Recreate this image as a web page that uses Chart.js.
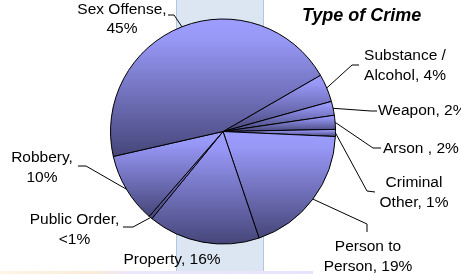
<!DOCTYPE html>
<html>
<head>
<meta charset="utf-8">
<script src="https://cdn.jsdelivr.net/npm/chart.js@4/dist/chart.umd.min.js"></script>
<style>
  html, body { margin: 0; padding: 0; background: #fff; }
  #wrap { position: relative; width: 461px; height: 274px; }
</style>
</head>
<body>
<div id="wrap"><canvas id="crimeChart" width="461" height="274"></canvas></div>
<script>
const categories = ['Substance / Alcohol', 'Weapon', 'Arson', 'Criminal Other', 'Person to Person', 'Property', 'Public Order', 'Robbery', 'Sex Offense'];
const shares = [4, 2, 2, 1, 19, 16, 0.5, 10, 45];
const labelLines = [
    ['Substance /', 'Alcohol, 4%'],
    ['Weapon, 2%'],
    ['Arson , 2%'],
    ['Criminal', 'Other, 1%'],
    ['Person to', 'Person, 19%'],
    ['Property, 16%'],
    ['Public Order,', '<1%'],
    ['Robbery,', '10%'],
    ['Sex Offense,', '45%']
];

// where each label sits and the bends of its leader line
const labelPlaces = [
    { x: 405, y: 60, align: 'center', bends: [[352, 65], [359, 65]] },
    { x: 378, y: 115, align: 'left', bends: [[371, 111], [377, 111]] },
    { x: 383, y: 153, align: 'left', bends: [[373, 148], [381, 148]] },
    { x: 414, y: 187, align: 'center', bends: [[367, 191], [375, 192]] },
    { x: 368, y: 251, align: 'center', bends: [[367, 224], [367, 232]] },
    { x: 172, y: 264, align: 'center', bends: null },
    { x: 74.5, y: 224, align: 'center', bends: [[133, 227], [123, 227]] },
    { x: 42, y: 162, align: 'center', bends: [[86, 166], [78, 166]] },
    { x: 122, y: 13.5, align: 'center', bends: [[174, 15], [168, 15]] }
];

const FONT = '"Liberation Sans", Arial, sans-serif';

function sliceFill(c) {
    const el = c.element;
    const chart = c.chart;
    if (!el || el.x === undefined || isNaN(el.startAngle)) return '#7b7bd6';
    const { x, y, startAngle, endAngle, outerRadius } = el;
    let top = y, bottom = y;
    const angles = [startAngle, endAngle];
    for (let k = -3; k <= 3; k++) {
        const a = Math.PI / 2 + k * Math.PI;
        if (a > startAngle && a < endAngle) angles.push(a);
    }
    angles.forEach(a => {
        const py = y + outerRadius * Math.sin(a);
        top = Math.min(top, py);
        bottom = Math.max(bottom, py);
    });
    const g = chart.ctx.createLinearGradient(0, top, 0, bottom);
    g.addColorStop(0, '#9d9dff');
    g.addColorStop(0.15, '#9797f6');
    g.addColorStop(1, '#46467a');
    return g;
}

const backdrop = {
    id: 'backdrop',
    beforeDraw(chart) {
        const ctx = chart.ctx;
        ctx.save();
        ctx.fillStyle = '#dce6f2';
        ctx.fillRect(176, 0, 88, 274);
        ctx.strokeStyle = '#b4c7e0';
        ctx.lineWidth = 1;
        ctx.beginPath();
        ctx.moveTo(176.5, 0); ctx.lineTo(176.5, 274);
        ctx.moveTo(263.5, 0); ctx.lineTo(263.5, 274);
        ctx.stroke();
        const g = ctx.createLinearGradient(0, 0, 320, 0);
        g.addColorStop(0, '#fdf6e6');
        g.addColorStop(0.3, '#fbead8');
        g.addColorStop(0.4, '#ece6fb');
        g.addColorStop(1, '#e8e3fc');
        ctx.fillStyle = g;
        ctx.fillRect(0, 271, 313, 3);
        ctx.restore();
    }
};

const calloutLabels = {
    id: 'calloutLabels',
    afterDatasetsDraw(chart) {
        const ctx = chart.ctx;
        const arcs = chart.getDatasetMeta(0).data;
        ctx.save();
        ctx.strokeStyle = '#000';
        ctx.lineWidth = 1;
        arcs.forEach((arc, i) => {
            const place = labelPlaces[i];
            if (!place.bends) return;
            const mid = (arc.startAngle + arc.endAngle) / 2;
            ctx.beginPath();
            ctx.moveTo(arc.x + arc.outerRadius * Math.cos(mid), arc.y + arc.outerRadius * Math.sin(mid));
            place.bends.forEach(p => ctx.lineTo(p[0], p[1]));
            ctx.stroke();
        });
        ctx.fillStyle = '#000';
        ctx.font = '15.5px ' + FONT;
        ctx.textBaseline = 'alphabetic';
        labelLines.forEach((lines, i) => {
            const place = labelPlaces[i];
            ctx.textAlign = place.align;
            lines.forEach((t, j) => ctx.fillText(t, place.x, place.y + j * 19.5));
        });
        ctx.font = 'italic bold 18px ' + FONT;
        ctx.textAlign = 'left';
        ctx.fillText('Type of Crime', 302, 21);
        ctx.restore();
    }
};

const chart = new Chart(document.getElementById('crimeChart'), {
    type: 'pie',
    data: {
        labels: categories,
        datasets: [{
            data: shares,
            backgroundColor: sliceFill,
            borderColor: '#000',
            borderWidth: 1
        }]
    },
    options: {
        responsive: false,
        animation: false,
        rotation: 60,
        layout: { padding: { left: 110, right: 125, top: 18, bottom: 29 } },
        plugins: {
            legend: { display: false },
            tooltip: { enabled: false }
        }
    },
    plugins: [backdrop, calloutLabels]
});
chart.update();
</script>
</body>
</html>
